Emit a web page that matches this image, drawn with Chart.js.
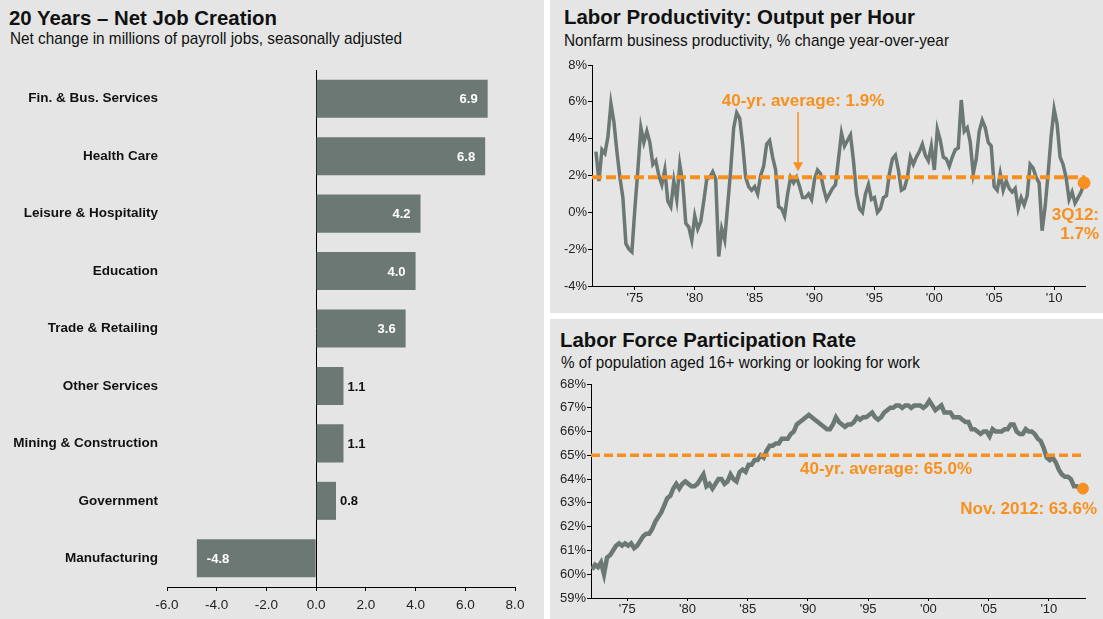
<!DOCTYPE html>
<html><head><meta charset="utf-8">
<script src="https://cdn.jsdelivr.net/npm/chart.js@4.4.1/dist/chart.umd.min.js"></script>
<style>
html,body{margin:0;padding:0;}
body{width:1103px;height:619px;background:#ffffff;position:relative;overflow:hidden;font-family:"Liberation Sans",Arial,sans-serif;}
.panel{position:absolute;background:#e4e5e4;}
.title{position:absolute;font-weight:bold;font-size:20px;line-height:22px;color:#111;white-space:nowrap;transform-origin:0 50%;}
.sub{position:absolute;font-size:17px;line-height:19px;color:#111;white-space:nowrap;transform-origin:0 50%;}
canvas{position:absolute;}
</style></head><body>
<div class="panel" style="left:0;top:0;width:544px;height:619px"></div>
<div class="panel" style="left:550px;top:0;width:553px;height:313px"></div>
<div class="panel" style="left:550px;top:319px;width:553px;height:300px"></div>

<div class="title" data-w="268" style="left:9px;top:7px">20 Years – Net Job Creation</div>
<div class="sub" data-w="392" style="left:10px;top:29px">Net change in millions of payroll jobs, seasonally adjusted</div>

<div class="title" data-w="351" style="left:564px;top:6px">Labor Productivity: Output per Hour</div>
<div class="sub" data-w="385" style="left:564px;top:31px">Nonfarm business productivity, % change year-over-year</div>

<div class="title" data-w="296" style="left:560px;top:329px">Labor Force Participation Rate</div>
<div class="sub" data-w="359" style="left:561px;top:353px">% of population aged 16+ working or looking for work</div>

<canvas id="jobs" width="544" height="559" style="left:0;top:60px"></canvas>
<canvas id="prod" width="553" height="258" style="left:550px;top:55px"></canvas>
<canvas id="lfpr" width="553" height="245" style="left:550px;top:374px"></canvas>

<script>
// ---------- DATA ----------
const jobCategories = ["Fin. & Bus. Services","Health Care","Leisure & Hospitality","Education","Trade & Retailing","Other Services","Mining & Construction","Government","Manufacturing"];
const jobChange = [6.9, 6.8, 4.2, 4.0, 3.6, 1.1, 1.1, 0.8, -4.8];
const jobTicks = [-6, -4, -2, 0, 2, 4, 6, 8];

// Nonfarm productivity, % y/y, quarterly, first value = 4Q1971, last = 3Q2012
const prodFirstQuarter = 1971.75;
const productivity = [
  3.3,
  1.7, 3.4, 3.2, 4.1,     // 1972
  5.9, 4.9, 3.3, 1.9,     // 1973
  0.8, -1.7, -2.0, -2.15, // 1974
  0.2, 2.3, 4.6, 3.8,     // 1975
  4.4, 3.8, 2.6, 2.8,     // 1976
  2.0, 1.5, 2.3, 0.6,     // 1977
  0.3, 1.7, 0.7, 2.6,     // 1978
  1.6, -0.6, -0.8, -1.5,  // 1979
  -0.2, -0.9, -0.5, 0.6,  // 1980
  1.8, 1.9, 2.2, 1.8,     // 1981
  -2.4, -0.9, -1.5, 0.4,  // 1982
  2.3, 4.6, 5.4, 5.1,     // 1983
  3.7, 1.9, 1.4, 1.2,     // 1984
  1.4, 1.0, 2.0, 2.5,     // 1985
  3.7, 3.9, 3.0, 2.3,     // 1986
  0.3, 0.2, -0.2, 1.0,    // 1987
  1.9, 1.6, 1.9, 1.4,     // 1988
  0.8, 0.8, 1.0, 0.7,     // 1989
  1.8, 2.3, 2.1, 1.3,     // 1990
  0.7, 1.0, 1.3, 1.5,     // 1991
  2.9, 4.3, 3.6, 3.9,     // 1992
  4.2, 2.8, 1.0, 0.2,     // 1993
  0.0, 1.0, 1.5, 0.7,     // 1994
  0.8, 0.0, 0.2, 0.8,     // 1995
  0.9, 2.1, 2.9, 3.1,     // 1996
  2.3, 1.2, 1.3, 1.9,     // 1997
  3.0, 2.6, 3.0, 3.3,     // 1998
  3.7, 3.1, 2.8, 3.6,     // 1999
  2.3, 4.5, 3.9, 3.0,     // 2000
  2.9, 2.5, 3.0, 3.4,     // 2001
  3.5, 6.1, 4.4, 4.6,     // 2002
  3.8, 2.1, 2.9, 4.4,     // 2003
  5.0, 4.6, 3.8, 3.6,     // 2004
  1.4, 1.2, 2.1, 1.2,     // 2005
  1.7, 1.3, 1.1, 1.3,     // 2006
  0.2, 0.8, 0.4, 0.9,     // 2007
  2.6, 2.4, 1.9, 1.6,     // 2008
  -1.0, 0.3, 2.1, 4.1,    // 2009
  5.6, 4.8, 3.0, 2.6,     // 2010
  1.9, 0.7, 1.1, 0.5,     // 2011
  0.8, 1.1, 1.6           // 2012
];
const prodAverage = 1.9;
const prodTicksY = [-4, -2, 0, 2, 4, 6, 8];

// Labor force participation rate, %, quarterly 1Q1972 .. 4Q2012 (last = Nov. 2012)
const lfprFirstQuarter = 1972.08;
const participation = [
  60.2, 60.4, 60.3, 60.5, // 1972
  60.0, 60.7, 60.8, 61.0, // 1973
  61.2, 61.3, 61.2, 61.3, // 1974
  61.2, 61.3, 61.1, 61.2, // 1975
  61.4, 61.6, 61.7, 61.7, // 1976
  61.9, 62.2, 62.4, 62.6, // 1977
  62.9, 63.2, 63.3, 63.6, // 1978
  63.8, 63.6, 63.8, 63.9, // 1979
  63.8, 63.7, 63.7, 63.8, // 1980
  64.0, 64.2, 63.7, 63.8, // 1981
  63.6, 63.8, 64.0, 64.0, // 1982
  63.8, 63.9, 64.2, 64.0, // 1983
  63.9, 64.3, 64.4, 64.3, // 1984
  64.6, 64.6, 64.8, 64.8, // 1985
  65.0, 64.9, 65.2, 65.4, // 1986
  65.4, 65.5, 65.5, 65.7, // 1987
  65.7, 65.7, 65.9, 66.0, // 1988
  66.3, 66.4, 66.5, 66.6, // 1989
  66.7, 66.6, 66.5, 66.4, // 1990
  66.3, 66.2, 66.1, 66.1, // 1991
  66.3, 66.6, 66.4, 66.3, // 1992
  66.2, 66.3, 66.3, 66.4, // 1993
  66.6, 66.5, 66.6, 66.6, // 1994
  66.7, 66.8, 66.6, 66.5, // 1995
  66.6, 66.8, 66.9, 67.0, // 1996
  67.0, 67.1, 67.1, 67.0, // 1997
  67.1, 67.1, 67.0, 67.1, // 1998
  67.1, 67.1, 67.0, 67.1, // 1999
  67.3, 67.1, 66.9, 67.0, // 2000
  67.1, 66.8, 66.8, 66.8, // 2001
  66.6, 66.6, 66.6, 66.5, // 2002
  66.4, 66.4, 66.1, 66.1, // 2003
  66.0, 65.9, 66.0, 66.0, // 2004
  65.8, 66.1, 66.0, 66.0, // 2005
  66.0, 66.1, 66.1, 66.3, // 2006
  66.3, 66.0, 65.9, 65.9, // 2007
  66.1, 66.0, 66.0, 65.9, // 2008
  65.7, 65.6, 65.3, 64.9, // 2009
  64.8, 64.9, 64.7, 64.4, // 2010
  64.2, 64.1, 64.1, 64.0, // 2011
  63.7, 63.7, 63.6, 63.6  // 2012
];
const lfprAverage = 65.0;
const lfprTicksY = [59, 60, 61, 62, 63, 64, 65, 66, 67, 68];
const yearTicks = [1975, 1980, 1985, 1990, 1995, 2000, 2005, 2010];

// ---------- STYLE ----------
const GRAY = '#6c7874';
const ORANGE = '#f7901e';
const FONT = '"Liberation Sans", Arial, Helvetica, sans-serif';
Chart.defaults.font.family = FONT;
Chart.defaults.color = '#222';
Chart.defaults.animation = false;

// fit title / subtitle widths to the reference
document.querySelectorAll('[data-w]').forEach(el => {
  const w = el.getBoundingClientRect().width;
  const target = +el.dataset.w;
  el.style.transform = 'scaleX(' + (target / w) + ')';
});

// ---------- LEFT: bar chart ----------
const barLabels = {
  id: 'barLabels',
  afterDatasetsDraw(chart) {
    const ctx = chart.ctx;
    const meta = chart.getDatasetMeta(0);
    ctx.save();
    ctx.font = 'bold 13px ' + FONT;
    ctx.textBaseline = 'middle';
    meta.data.forEach((bar, i) => {
      const v = jobChange[i];
      const txt = v.toFixed(1);
      if (v >= 3) { ctx.fillStyle = '#fff'; ctx.textAlign = 'right'; ctx.fillText(txt, bar.x - 10, bar.y + 1); }
      else if (v < 0) { ctx.fillStyle = '#fff'; ctx.textAlign = 'left'; ctx.fillText(txt, bar.x + 10, bar.y + 1); }
      else { ctx.fillStyle = '#111'; ctx.textAlign = 'left'; ctx.fillText(txt, bar.x + 4, bar.y + 1); }
    });
    ctx.restore();
  }
};

new Chart(document.getElementById('jobs'), {
  type: 'bar',
  data: {
    labels: jobCategories,
    datasets: [{ data: jobChange, backgroundColor: GRAY, borderWidth: 0, categoryPercentage: 1, barPercentage: 0.662 }]
  },
  options: {
    indexAxis: 'y', responsive: false,
    layout: { padding: { top: 10, right: 29, left: 0, bottom: 0 } },
    plugins: { legend: { display: false }, tooltip: { enabled: false } },
    scales: {
      x: {
        type: 'linear', min: -6, max: 8,
        afterBuildTicks: s => { s.ticks = jobTicks.map(v => ({ value: v })); },
        afterFit: s => { s.height = 32; },
        ticks: { callback: v => v.toFixed(1), font: { size: 13.5 }, color: '#222', padding: 6, maxRotation: 0 },
        grid: { color: c => (c.tick && c.tick.value === 0) ? '#000' : 'rgba(0,0,0,0)', tickColor: '#000', tickLength: 4, lineWidth: 1 },
        border: { display: true, color: '#000', width: 1 }
      },
      y: {
        type: 'category',
        afterFit: s => { s.width = 167; },
        ticks: { font: { size: 13.5, weight: 'bold' }, color: '#111', padding: 1 },
        grid: { display: false, drawTicks: true, tickLength: 8 },
        border: { display: false }
      }
    }
  },
  plugins: [barLabels]
});

// ---------- helpers for line charts ----------
function yearLabel(v) { return "'" + String(v).slice(2); }

// ---------- TOP RIGHT: productivity ----------
const prodPoints = productivity.map((v, i) => ({ x: prodFirstQuarter + i / 4, y: v }));
const prodMin = 1971.42, prodMax = 2012.58;
const prodLast = prodPoints[prodPoints.length - 1];

const prodNotes = {
  id: 'prodNotes',
  afterDatasetsDraw(chart) {
    const ctx = chart.ctx, xs = chart.scales.x, ys = chart.scales.y;
    ctx.save();
    ctx.fillStyle = ORANGE; ctx.strokeStyle = ORANGE;
    ctx.font = 'bold 17px ' + FONT;
    ctx.textBaseline = 'middle';
    const ax = xs.getPixelForValue(1988.62);
    ctx.textAlign = 'center';
    ctx.fillText('40-yr. average: 1.9%', ax + 5, 46);
    const tipY = ys.getPixelForValue(prodAverage) - 6;
    ctx.lineWidth = 1.5;
    ctx.beginPath(); ctx.moveTo(ax, 57); ctx.lineTo(ax, tipY - 7); ctx.stroke();
    ctx.beginPath(); ctx.moveTo(ax - 5, tipY - 9); ctx.lineTo(ax + 5, tipY - 9); ctx.lineTo(ax, tipY); ctx.closePath(); ctx.fill();
    ctx.textAlign = 'right';
    ctx.fillText('3Q12:', 549, 160);
    ctx.fillText('1.7%', 549, 179);
    ctx.restore();
  }
};

new Chart(document.getElementById('prod'), {
  type: 'line',
  data: {
    datasets: [
      { data: [{ x: prodMin, y: prodAverage }, { x: prodMax, y: prodAverage }], borderColor: ORANGE, borderWidth: 4, borderDash: [10, 4], pointRadius: 0 },
      { data: [prodLast], borderColor: ORANGE, backgroundColor: ORANGE, pointRadius: 6, showLine: false, clip: false },
      { data: prodPoints, borderColor: GRAY, borderWidth: 3.5, pointRadius: 0, tension: 0 }
    ]
  },
  options: {
    responsive: false,
    layout: { padding: { top: 10, right: 18, left: 0, bottom: 0 } },
    plugins: { legend: { display: false }, tooltip: { enabled: false } },
    scales: {
      x: {
        type: 'linear', min: prodMin, max: prodMax,
        afterBuildTicks: s => { s.ticks = yearTicks.map(v => ({ value: v })); },
        afterFit: s => { s.height = 27; },
        ticks: { callback: yearLabel, font: { size: 13 }, color: '#222', padding: 1, maxRotation: 0 },
        grid: { drawOnChartArea: false, tickColor: '#000', tickLength: 4 },
        border: { color: '#000' }
      },
      y: {
        min: -4, max: 8,
        afterBuildTicks: s => { s.ticks = prodTicksY.map(v => ({ value: v })); },
        afterFit: s => { s.width = 42; },
        ticks: { callback: v => v + '%', font: { size: 13 }, color: '#222', padding: 1 },
        grid: { drawOnChartArea: false, tickColor: '#000', tickLength: 4 },
        border: { color: '#000' }
      }
    }
  },
  plugins: [prodNotes]
});

// ---------- BOTTOM RIGHT: participation ----------
const lfprPoints = participation.map((v, i) => ({ x: lfprFirstQuarter + i / 4, y: v }));
lfprPoints[lfprPoints.length - 1].x = 2012.83;
const lfprMin = 1972.0, lfprMax = 2013.0;
const lfprLast = lfprPoints[lfprPoints.length - 1];

const lfprNotes = {
  id: 'lfprNotes',
  afterDatasetsDraw(chart) {
    const ctx = chart.ctx;
    ctx.save();
    ctx.fillStyle = ORANGE;
    ctx.font = 'bold 17px ' + FONT;
    ctx.textBaseline = 'middle';
    ctx.textAlign = 'center';
    ctx.fillText('40-yr. average: 65.0%', 336, 95);
    ctx.textAlign = 'right';
    ctx.fillText('Nov. 2012: 63.6%', 547, 135);
    ctx.restore();
  }
};

new Chart(document.getElementById('lfpr'), {
  type: 'line',
  data: {
    datasets: [
      { data: [{ x: lfprMin, y: lfprAverage }, { x: lfprMax, y: lfprAverage }], borderColor: ORANGE, borderWidth: 3.5, borderDash: [9, 4], pointRadius: 0 },
      { data: [lfprLast], borderColor: ORANGE, backgroundColor: ORANGE, pointRadius: 5.5, showLine: false, clip: false },
      { data: lfprPoints, borderColor: GRAY, borderWidth: 4.5, pointRadius: 0, tension: 0 }
    ]
  },
  options: {
    responsive: false,
    layout: { padding: { top: 10, right: 18, left: 0, bottom: 0 } },
    plugins: { legend: { display: false }, tooltip: { enabled: false } },
    scales: {
      x: {
        type: 'linear', min: lfprMin, max: lfprMax,
        afterBuildTicks: s => { s.ticks = yearTicks.map(v => ({ value: v })); },
        afterFit: s => { s.height = 21; },
        ticks: { callback: yearLabel, font: { size: 13 }, color: '#222', padding: 1, maxRotation: 0 },
        grid: { drawOnChartArea: false, tickColor: '#000', tickLength: 3 },
        border: { color: '#000' }
      },
      y: {
        min: 59, max: 68,
        afterBuildTicks: s => { s.ticks = lfprTicksY.map(v => ({ value: v })); },
        afterFit: s => { s.width = 41; },
        ticks: { callback: v => v + '%', font: { size: 13 }, color: '#222', padding: 1 },
        grid: { drawOnChartArea: false, tickColor: '#000', tickLength: 4 },
        border: { color: '#000' }
      }
    }
  },
  plugins: [lfprNotes]
});
</script>
</body></html>
